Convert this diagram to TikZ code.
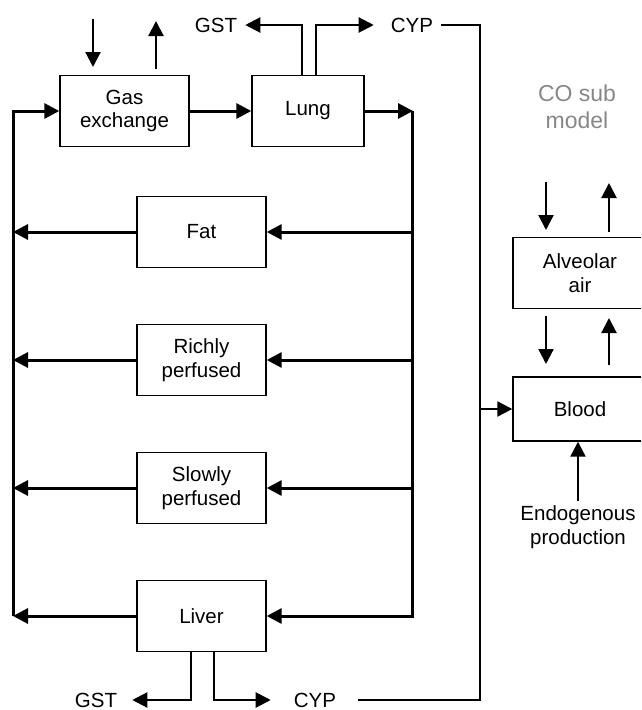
\documentclass[tikz,border=0pt]{standalone}
\usepackage{fontspec}
\setmainfont{Liberation Sans}
\usetikzlibrary{arrows.meta,calc}
\definecolor{cogray}{RGB}{135,135,135}
\begin{document}
\begin{tikzpicture}[x=1pt,y=-1pt,
  >={Triangle[length=15pt,width=15pt]},
  box/.style={draw,line width=1.4pt,minimum width=129pt,minimum height=71pt,inner sep=0pt,align=center,font=\fontsize{20.5}{23.5}\selectfont},
  lbl/.style={inner sep=0pt,font=\fontsize{20.5}{23.5}\selectfont},
  main/.style={line width=3pt},
  thinl/.style={line width=2.2pt}]
\clip (0,0) rectangle (641,710);
% boxes
\node[box] (gas) at (124.5,111) {Gas\\exchange};
\node[box,minimum width=112pt] (lung) at (308,111) {Lung};
\node[box] (fat) at (201.5,232) {Fat};
\node[box] (rich) at (201.5,360) {Richly\\perfused};
\node[box] (slow) at (201.5,488) {Slowly\\perfused};
\node[box] (liver) at (201.5,616) {Liver};
\node[box,minimum width=134pt] (alv) at (580,273) {Alveolar\\air};
\node[box,minimum width=134pt,minimum height=64pt] (blood) at (580,409) {Blood};
% labels
\node[lbl] (gst1) at (216,25) {GST};
\node[lbl] (cyp1) at (412,25) {CYP};
\node[lbl] (gst2) at (96,700) {GST};
\node[lbl] (cyp2) at (315,700) {CYP};
\node[lbl,align=center] (endo) at (578,527) {Endogenous\\production};
\node[lbl,align=center,text=cogray,font=\fontsize{23}{26.5}\selectfont] (co) at (577,107) {CO sub\\model};
% trunk coordinates
\coordinate (lt) at (13,111);
\coordinate (lb) at (13,616);
\coordinate (rt) at (412,111);
\coordinate (rb) at (412,616);
\coordinate (cbt) at (480,25);
\coordinate (cbb) at (480,700);
% main circulation
\draw[main,->] (lb) -- (lt) -- (gas.west);
\draw[main,->] (gas.east) -- (lung.west);
\draw[main,->] (lung.east) -- ([xshift=1pt]rt);
\draw[main,->] (rt) -- (rb) -- (liver.east);
\foreach \n in {fat,rich,slow}{
  \draw[main,->] (\n.east -| rt) -- (\n.east);
}
\foreach \n in {fat,rich,slow,liver}{
  \draw[main,->] (\n.west) -- (\n.west -| lt);
}
% gas exchange in/out
\coordinate (gi0) at (93,19); \coordinate (gi1) at (93,67);
\coordinate (go0) at (156,69); \coordinate (go1) at (156,21);
\draw[thinl,->] (gi0) -- (gi1);
\draw[thinl,->] (go0) -- (go1);
% lung metabolism
\draw[thinl,->,shorten >=8pt] ([xshift=-6pt]lung.north) |- (gst1.east);
\draw[thinl,->,shorten >=17pt] ([xshift=8pt]lung.north) |- (cyp1.west);
% liver metabolism
\draw[thinl,->,shorten >=15pt] ([xshift=-10.5pt]liver.south) |- (gst2.east);
\draw[thinl,->,shorten >=23pt] ([xshift=12.5pt]liver.south) |- (cyp2.west);
% CYP to blood
\draw[thinl] ([xshift=8pt]cyp1.east) -- (cbt) -- (cbb) -- ([xshift=22pt]cyp2.east);
\draw[thinl,->] (blood.west -| cbt) -- (blood.west);
% CO sub model arrows
\coordinate (a1) at (546,182); \coordinate (a2) at (546,230);
\coordinate (a3) at (609,232); \coordinate (a4) at (609,183);
\coordinate (a5) at (546,316); \coordinate (a6) at (546,364);
\coordinate (a7) at (609,365); \coordinate (a8) at (609,318);
\draw[thinl,->] (a1) -- (a2);
\draw[thinl,->] (a3) -- (a4);
\draw[thinl,->] (a5) -- (a6);
\draw[thinl,->] (a7) -- (a8);
\draw[thinl,->,shorten <=5pt] (endo.north) -- (endo.north |- blood.south);
\end{tikzpicture}
\end{document}
